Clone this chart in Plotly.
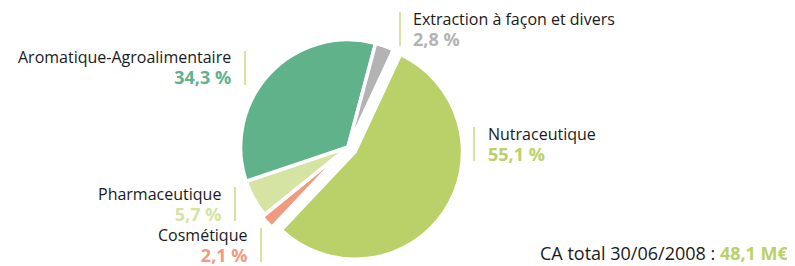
import plotly.graph_objects as go

categories = ["Nutraceutique", "Cosmétique", "Pharmaceutique",
              "Aromatique-Agroalimentaire", "Extraction à façon et divers"]
values = [55.1, 2.1, 5.7, 34.3, 2.8]
value_labels = ["55,1 %", "2,1 %", "5,7 %", "34,3 %", "2,8 %"]
colors = ["#bad169", "#f09a80", "#d5e3a3", "#5fb28a", "#b3b3b3"]
pulls = [0.08, 0.03, 0, 0, 0]
total_label = "CA total 30/06/2008 : "
total_value = "48,1 M€"

# the page body has an 8px default margin; size the figure to fit the window
OFF = 8
W, H = 795 - OFF, 266 - OFF
def px(x): return (x - OFF) / W
def py(y): return 1 - (y - OFF) / H

fig = go.Figure(go.Pie(
    labels=categories, values=values, sort=False, direction="clockwise",
    rotation=25, pull=pulls, textinfo="none", hoverinfo="none",
    marker=dict(colors=colors, line=dict(color="white", width=3.5)),
    showlegend=False,
    domain=dict(x=[px(348 - 116), px(348 + 116)], y=[py(147 + 116), py(147 - 116)]),
))

font = "Open Sans, Noto Sans, sans-serif"
# (index, x, y_center, anchor, line_x)
label_pos = [
    (0, 486, 144, "left", 474),
    (1, 249, 245, "right", 261),
    (2, 223, 204, "right", 235),
    (3, 233, 68, "right", 245),
    (4, 411, 29, "left", 400),
]
anns = []
shapes = []
for i, x, yc, anchor, lx in label_pos:
    anns.append(dict(
        x=px(x), y=py(yc), xref="paper", yref="paper",
        xanchor=anchor, yanchor="middle", align=anchor, showarrow=False,
        text=(f"{categories[i]}<br><b><span style='color:{colors[i]};font-size:18px'>"
              f"{value_labels[i]}</span></b>"),
        font=dict(family=font, size=16, color="#1a1a1a"),
    ))
    shapes.append(dict(type="line", xref="paper", yref="paper",
                       x0=px(lx), x1=px(lx), y0=py(yc - 17), y1=py(yc + 17),
                       line=dict(color="#bad169", width=1.2)))

anns.append(dict(
    x=px(791), y=py(253), xref="paper", yref="paper", xanchor="right",
    yanchor="middle", showarrow=False,
    text=f"{total_label}<b><span style='color:#bad169'>{total_value}</span></b>",
    font=dict(family=font, size=18, color="#1a1a1a"),
))

fig.update_layout(
    width=W, height=H, margin=dict(l=0, r=0, t=0, b=0),
    paper_bgcolor="white", plot_bgcolor="white",
    annotations=anns, shapes=shapes,
)
fig.write_html("out.html")
